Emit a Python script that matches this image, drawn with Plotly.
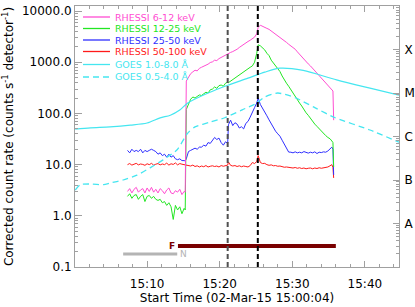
import math
import plotly.graph_objects as go

# ---------------- data (minutes after 15:00) ----------------
t_rhessi = [7.3, 7.6, 7.9, 8.2, 8.5, 8.8, 9.1, 9.4, 9.7, 10.0, 10.3, 10.6, 10.9, 11.2, 11.5, 11.8,
            12.1, 12.4, 12.7, 13.0, 13.3, 13.6, 13.9, 14.2, 14.5, 14.8, 15.1,
            15.25, 15.4,
            15.7, 16.0, 16.3, 16.6, 16.9, 17.2, 17.5, 17.8, 18.1, 18.4, 18.7, 19.0, 19.3, 19.6, 19.9,
            20.2, 20.5, 20.8, 21.1,
            21.2,
            21.5, 21.8, 22.1, 22.4, 22.7, 23.0, 23.3, 23.6, 23.9, 24.2, 24.5, 24.8, 25.1,
            25.3,
            25.6, 25.9, 26.2, 26.5, 26.8, 27.1, 27.4, 27.7, 28.0, 28.3, 28.6, 28.9, 29.2, 29.5, 29.8,
            30.1, 30.4, 30.7, 31.0, 31.3, 31.6, 31.9, 32.2, 32.5, 32.8, 33.1, 33.4, 33.7, 34.0, 34.3,
            34.6, 34.9, 35.2,
            35.45, 35.6, 35.7]

rate_6_12 = [3.0, 3.4, 2.8, 3.3, 3.6, 2.9, 3.2, 3.4, 2.8, 3.5, 3.0, 3.6, 2.9, 3.3, 2.8, 3.4,
             3.1, 2.7, 3.2, 3.5, 2.8, 2.7, 3.1, 2.9, 3.3, 2.6, 3.0,
             2.9, 430,
             520, 600, 650, 700, 680, 760, 800, 830, 880, 920, 990, 1020, 1100, 1080, 1180,
             1250, 1300, 1380, 1450,
             1480,
             1560, 1620, 1700, 1800, 1950, 2100, 2200, 2350, 2550, 2700, 2900, 3100, 3600,
             4800,
             5300, 5000, 4900, 4600, 4400, 4100, 3800, 3500, 3300, 3100, 2900, 2700, 2450, 2250, 2100,
             1950, 1800, 1600, 1420, 1280, 1150, 1000, 930, 850, 760, 700, 620, 550, 480, 430,
             390, 350, 310,
             290, 275, 74]

rate_12_25 = [2.4, 2.7, 2.2, 2.5, 2.6, 2.1, 2.4, 2.6, 1.9, 2.4, 2.5, 2.2, 2.4, 2.1, 2.0, 2.1,
              1.8, 1.9, 1.6, 1.8, 1.5, 0.85, 1.6, 1.3, 1.5, 1.1, 1.4,
              1.3, 120,
              150, 190, 210, 200, 215, 230, 225, 240, 260, 250, 290, 300, 330, 310, 350,
              360, 340, 390, 410,
              400,
              430, 460, 480, 520, 560, 610, 640, 700, 760, 800, 850, 1000, 1500,
              2200,
              2100, 1900, 1750, 1500, 1350, 1100, 980, 860, 760, 660, 540, 450, 390, 340, 290,
              245, 210, 185, 160, 140, 118, 103, 92, 80, 70, 62, 56, 50, 45, 41,
              37, 34, 32,
              29, 27, 9]

rate_25_50 = [19, 17, 20, 18, 19, 18, 20, 17, 19, 18, 19, 20, 19, 18, 16, 17,
              15, 16, 14, 16, 14, 15, 13, 12.5, 13, 12, 12,
              11.8, 13,
              18, 19, 20, 21, 20, 22, 22, 24, 23, 27, 26, 30, 34, 31, 33,
              27, 24, 28, 26,
              60,
              74, 58, 66, 62, 52, 55, 50, 64, 70, 85, 110, 130, 160,
              200,
              150, 128, 110, 90, 75, 62, 52, 45, 40, 36, 30, 25, 20, 17.6, 17.5,
              17, 17.8, 17, 17.5, 17, 18, 17.2, 16.8, 17.5, 17, 17.8, 16.5, 17.5, 17.2, 17.8,
              17.5, 18.5, 20,
              22, 20, 6.3]

rate_50_100 = [10.0, 10.5, 9.8, 10.2, 10.6, 9.9, 10.3, 10.1, 9.7, 10.4, 10.0, 10.6, 9.8, 10.2, 10.5, 9.9,
               10.3, 10.0, 10.7, 9.8, 10.4, 10.1, 10.8, 9.9, 10.5, 10.2, 10.0,
               10.1, 9.8,
               9.6, 9.4, 9.8, 9.2, 9.5, 9.0, 9.4, 9.1, 9.6, 9.0, 9.3, 9.5, 9.2, 9.4, 9.0,
               9.6, 9.3, 9.5, 9.8,
               11.3,
               9.7, 9.4, 9.6, 9.2, 9.5, 9.1, 9.4, 9.2, 9.0, 9.6, 11.0, 10.5, 11.5,
               15,
               11.0, 10.5, 10.6, 10.0, 9.7, 9.9, 9.5, 9.6, 9.3, 9.4, 9.1, 8.9, 9.0, 8.8, 8.9,
               8.6, 8.8, 8.5, 8.7, 8.4, 8.6, 8.3, 8.5, 8.6, 8.3, 8.6, 8.4, 8.7, 8.5, 8.6,
               8.7, 9.0, 9.5,
               10.0, 8.8, 5.5]

t_goes_long = [0.1, 2.2, 4.9, 7.7, 10.0, 11.8, 13.2, 14.5, 15.6, 18.4, 21.1, 23.9, 26.2, 28.3,
               31.5, 36.1, 40.7, 44.7]
goes_long = [1.48e-6, 1.58e-6, 1.66e-6, 1.82e-6, 2.04e-6, 2.69e-6, 3.09e-6, 4.07e-6, 5.89e-6,
             1.0e-5, 1.51e-5, 2.19e-5, 3.02e-5, 3.72e-5, 3.3e-5, 2.0e-5, 1.29e-5, 8.9e-6]

t_goes_short = [0.1, 0.8, 2.2, 4.0, 4.9, 6.7, 8.6, 10.4, 12.2, 14.1, 15.6, 16.6, 18.7, 20.7,
                23.1, 24.9, 26.2, 28.0, 30.4, 33.1, 35.9, 40.7, 44.7]
goes_short = [5.9e-8, 7.8e-8, 8.1e-8, 7.8e-8, 8.5e-8, 1.0e-7, 1.29e-7, 1.9e-7, 2.9e-7, 4.9e-7,
              1.2e-6, 1.66e-6, 2.14e-6, 2.7e-6, 4.1e-6, 5.6e-6, 8.1e-6, 1.0e-5, 7.8e-6, 4.6e-6,
              2.7e-6, 1.41e-6, 7.4e-7]

event_times = [21.1, 25.25]
flare_interval = [14.25, 36.0]     # "F" bar
night_interval = [6.7, 14.15]      # "N" bar

x_tick_vals = [10, 20, 30, 40]
x_tick_text = ["15:10", "15:20", "15:30", "15:40"]
y_tick_vals = [0.1, 1, 10, 100, 1000, 10000]
y_tick_text = ["0.1", "1.0", "10.0", "100.0", "1000.0", "10000.0"]
goes_tick_vals = [1e-8, 1e-7, 1e-6, 1e-5, 1e-4]
goes_tick_text = ["A", "B", "C", "M", "X"]

series_names = ["RHESSI 6-12 keV", "RHESSI 12-25 keV", "RHESSI 25-50 keV",
                "RHESSI 50-100 keV", "GOES 1.0-8.0 Å", "GOES 0.5-4.0 Å"]

# ---------------- style ----------------
C_MAG = "#ff4dd2"
C_GRN = "#22e622"
C_BLU = "#2f2fff"
C_RED = "#ff1a1a"
C_CYN = "#45e6f0"
AX = "#a0a0a0"
FONT = "DejaVu Sans"

fig = go.Figure()

fig.add_trace(go.Scatter(x=t_goes_long, y=goes_long, yaxis="y2", mode="lines",
                         line=dict(color=C_CYN, width=1.2, shape="spline", smoothing=0.8)))
fig.add_trace(go.Scatter(x=t_goes_short, y=goes_short, yaxis="y2", mode="lines",
                         line=dict(color=C_CYN, width=1.3, dash="6px,4px", shape="spline", smoothing=0.6)))

for vals, col in [(rate_50_100, C_RED), (rate_25_50, C_BLU), (rate_12_25, C_GRN), (rate_6_12, C_MAG)]:
    fig.add_trace(go.Scatter(x=t_rhessi, y=vals, mode="lines", line=dict(color=col, width=1)))

# attenuator / night bars
F_LEVEL = 0.257
N_LEVEL = 0.18
fig.add_trace(go.Scatter(x=flare_interval, y=[F_LEVEL, F_LEVEL], mode="lines",
                         line=dict(color="#7a0000", width=4)))
fig.add_trace(go.Scatter(x=night_interval, y=[N_LEVEL, N_LEVEL], mode="lines",
                         line=dict(color="#b4b4b4", width=3)))
fig.add_annotation(x=flare_interval[0], y=math.log10(F_LEVEL), xref="x", yref="y", text="<b>F</b>",
                   showarrow=False, xanchor="right", yanchor="middle", xshift=-1,
                   font=dict(family=FONT, size=9, color="#7a0000"))
fig.add_annotation(x=night_interval[1], y=math.log10(N_LEVEL), xref="x", yref="y", text="N",
                   showarrow=False, xanchor="left", yanchor="middle", xshift=1,
                   font=dict(family=FONT, size=9, color="#b4b4b4"))

# event lines
fig.add_vline(x=event_times[0], line=dict(color="#505050", width=2, dash="5px,3px"))
fig.add_vline(x=event_times[1], line=dict(color="#000000", width=2, dash="5px,3px"))

# manual legend
PLOT_T, PLOT_B, PLOT_L, PLOT_W = 6, 267, 75, 324
leg_y = [17, 28.5, 40, 51.5, 64.5, 77]
leg_cols = [C_MAG, C_GRN, C_BLU, C_RED, C_CYN, C_CYN]
leg_dash = ["solid", "solid", "solid", "solid", "solid", "6px,4px"]
for name, py, col, dsh in zip(series_names, leg_y, leg_cols, leg_dash):
    yp = (PLOT_B - py) / (PLOT_B - PLOT_T)
    fig.add_shape(type="line", xref="paper", yref="paper",
                  x0=(83 - PLOT_L) / PLOT_W, x1=(110 - PLOT_L) / PLOT_W, y0=yp, y1=yp,
                  line=dict(color=col, width=1.3, dash=dsh))
    fig.add_annotation(xref="paper", yref="paper", x=(113 - PLOT_L) / PLOT_W, y=yp,
                       text=name, showarrow=False, xanchor="left", yanchor="middle",
                       font=dict(family=FONT, size=9.5, color=col))

minor_left = [m * 10 ** e for e in range(-1, 5) for m in range(2, 10)]
minor_right = [m * 10 ** e for e in range(-9, -3) for m in range(2, 10)]

fig.update_layout(
    width=415, height=307,
    margin=dict(l=75, r=16, t=6, b=40, autoexpand=False),
    plot_bgcolor="white", paper_bgcolor="white",
    showlegend=False,
    font=dict(family=FONT, size=12, color="black"),
    xaxis=dict(range=[0.067, 44.7], tickmode="array", tickvals=x_tick_vals, ticktext=x_tick_text,
               ticks="inside", ticklen=6, tickcolor=AX, showline=True, linecolor=AX, linewidth=1,
               mirror="ticks", showgrid=False, zeroline=False, ticklabelstandoff=6,
               minor=dict(dtick=2, tick0=0, ticks="inside", ticklen=3, tickcolor=AX),
               title=dict(text="Start Time (02-Mar-15 15:00:04)", standoff=3,
                          font=dict(family=FONT, size=12))),
    yaxis=dict(type="log", range=[-1, 4.1], tickmode="array", tickvals=y_tick_vals,
               ticktext=y_tick_text, ticks="inside", ticklen=7, tickcolor=AX, showline=True,
               linecolor=AX, linewidth=1, showgrid=False, zeroline=False,
               minor=dict(tickmode="array", tickvals=minor_left, ticks="inside", ticklen=3,
                          tickcolor=AX),
               title=dict(text="Corrected count rate (counts s<sup>-1</sup> detector<sup>-1</sup>)",
                          standoff=5, font=dict(family=FONT, size=12))),
    yaxis2=dict(type="log", range=[-9, -3], overlaying="y", side="right", tickmode="array",
                tickvals=goes_tick_vals, ticktext=goes_tick_text, ticks="inside", ticklen=6,
                tickcolor=AX, showline=True, linecolor=AX, linewidth=1, showgrid=False,
                zeroline=False, ticklabelstandoff=2, ticklabeloverflow="allow",
                minor=dict(tickmode="array", tickvals=minor_right, ticks="inside", ticklen=3,
                           tickcolor=AX)),
)

fig.write_html("out.html", config={"displayModeBar": False},
               post_script="document.body.style.margin='0';")
